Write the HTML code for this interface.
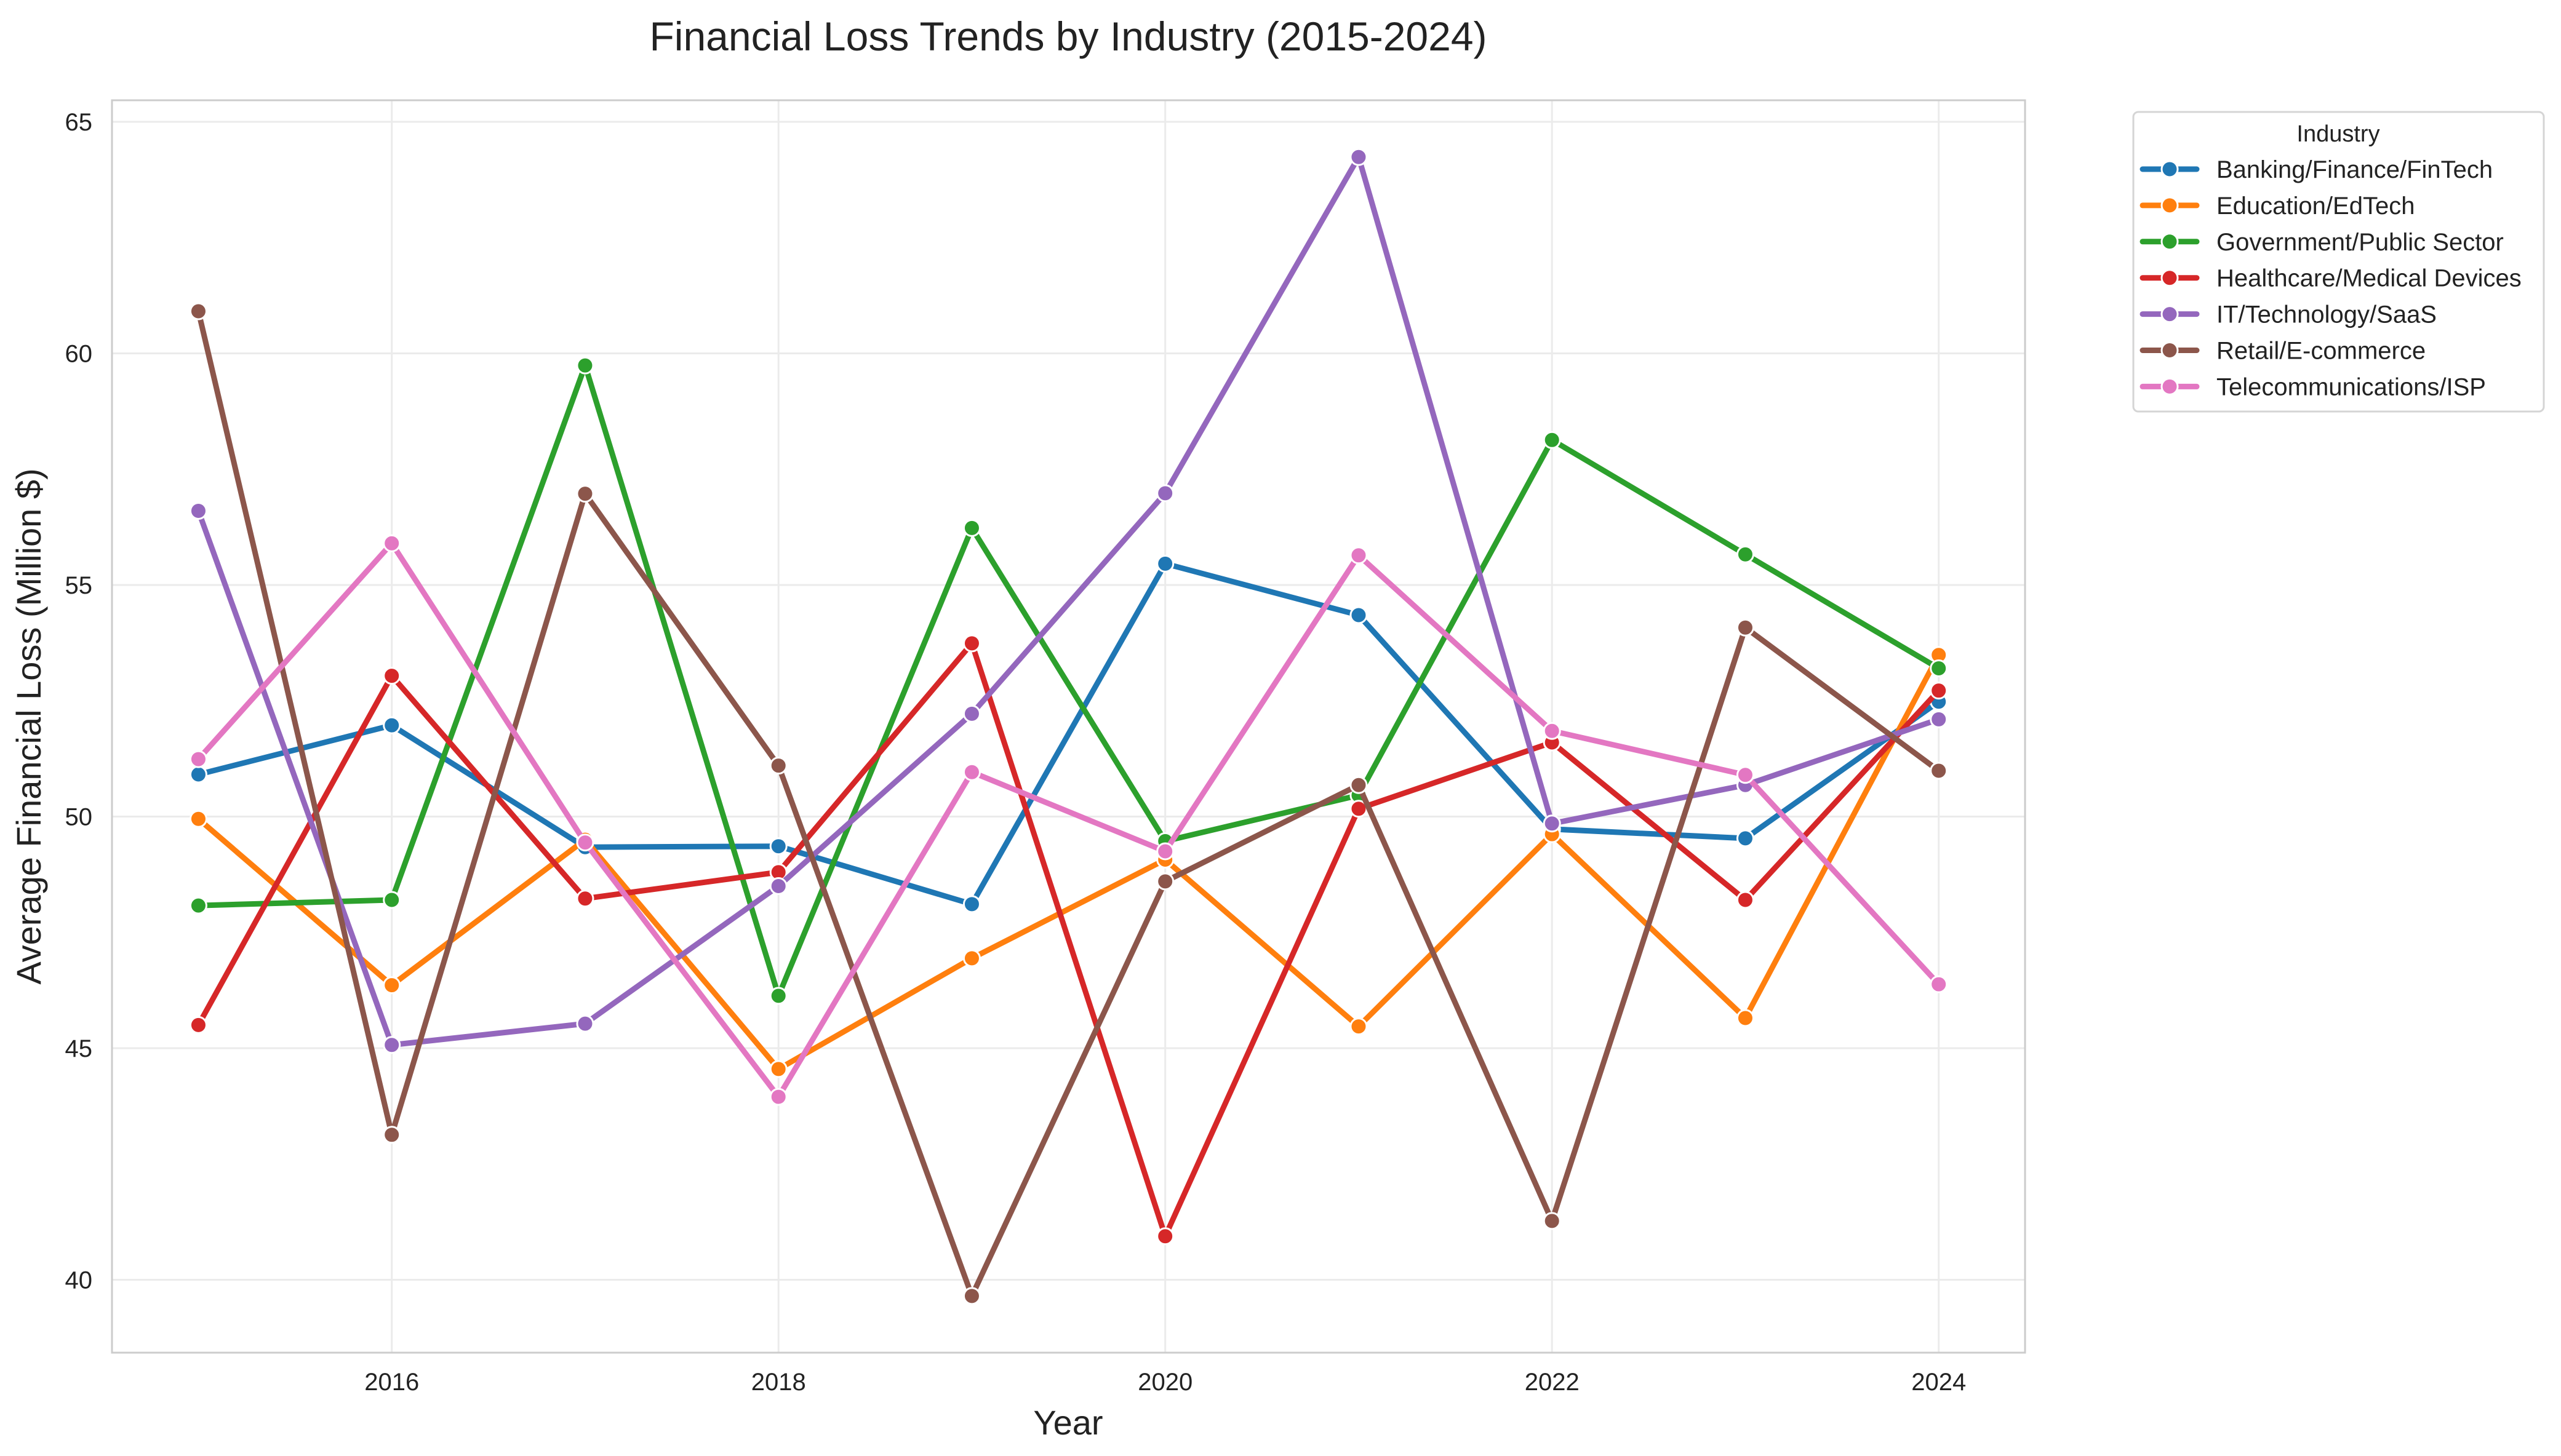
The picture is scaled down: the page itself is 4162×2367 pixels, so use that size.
<!DOCTYPE html>
<html><head><meta charset="utf-8"><style>
html,body{margin:0;padding:0;background:#fff;}
svg{display:block;font-family:"Liberation Sans",Arial,sans-serif;}
</style></head><body>
<svg id="chart" width="4162" height="2367" viewBox="0 0 4162 2367" xmlns="http://www.w3.org/2000/svg">
<rect x="0" y="0" width="4162" height="2367" fill="#fff"/>
<g id="grid"></g>
<g id="series"></g>
<rect x="182" y="163" width="3109" height="2036" fill="none" stroke="#cccccc" stroke-width="3"/>
<g id="ticks"></g>
<text x="1736" y="82" text-anchor="middle" font-size="66" fill="#222">Financial Loss Trends by Industry (2015-2024)</text>
<text x="1736" y="2332" text-anchor="middle" font-size="56" fill="#222">Year</text>
<text transform="translate(66,1181) rotate(-90)" text-anchor="middle" font-size="56" fill="#222">Average Financial Loss (Million $)</text>
<g id="legend">
<rect x="3467" y="182" width="667" height="487" rx="8" fill="#fff" stroke="#d5d5d5" stroke-width="3"/>
<text x="3800" y="230" text-anchor="middle" font-size="38" fill="#222">Industry</text>
</g>
</svg>
<script>
const years = [2015,2016,2017,2018,2019,2020,2021,2022,2023,2024];
const industries = ["Banking/Finance/FinTech","Education/EdTech","Government/Public Sector","Healthcare/Medical Devices","IT/Technology/SaaS","Retail/E-commerce","Telecommunications/ISP"];
const colors = ["#1f77b4","#ff7f0e","#2ca02c","#d62728","#9467bd","#8c564b","#e377c2"];
const banking = [50.91,51.97,49.34,49.36,48.11,55.46,54.35,49.73,49.53,52.48];
const education = [49.95,46.36,49.5,44.55,46.94,49.07,45.47,49.62,45.65,53.49];
const government = [48.08,48.2,59.74,46.13,56.23,49.47,50.46,58.13,55.66,53.2];
const healthcare = [45.5,53.04,48.23,48.8,53.74,40.94,50.17,51.6,48.2,52.72];
const itTech = [56.6,45.07,45.53,48.5,52.22,56.98,64.24,49.85,50.68,52.1];
const retail = [60.91,43.13,56.97,51.1,39.65,48.6,50.68,41.27,54.08,50.99];
const telecom = [51.24,55.9,49.44,43.95,50.96,49.25,55.64,51.85,50.9,46.38];
const yTicks = [40,45,50,55,60,65];
const xTicks = [2016,2018,2020,2022,2024];

const NS = "http://www.w3.org/2000/svg";
const X0=182, X1=3291, Y0=163, Y1=2199;
function xs(yr){ return 636.7 + (yr-2016)*314.25; }
function ys(v){ return 198 + (65-v)*75.3; }
function mk(tag, attrs, parent){ const e=document.createElementNS(NS,tag); for(const k in attrs) e.setAttribute(k,attrs[k]); parent.appendChild(e); return e; }

const grid=document.getElementById('grid'), ticks=document.getElementById('ticks');
yTicks.forEach(v=>{
  const l=mk('line',{x1:X0,x2:X1,y1:ys(v),y2:ys(v),stroke:'#ebebeb','stroke-width':3},grid);
  
  
  const t=mk('text',{x:150,y:ys(v)+14,'text-anchor':'end','font-size':40,fill:'#222'},ticks);
  t.textContent=v;
  
  
});
xTicks.forEach(yr=>{
  const l=mk('line',{x1:xs(yr),x2:xs(yr),y1:Y0,y2:Y1,stroke:'#ebebeb','stroke-width':3},grid);
  
  
  const t=mk('text',{x:xs(yr),y:2260,'text-anchor':'middle','font-size':40,fill:'#222'},ticks);
  t.textContent=yr;
  
  
});

const seriesData=[banking,education,government,healthcare,itTech,retail,telecom];
const sg=document.getElementById('series');
seriesData.forEach((vals,i)=>{
  const g=mk('g',{},sg);
  
  
  const pts=vals.map((v,j)=>xs(years[j])+','+ys(v)).join(' ');
  const pl=mk('polyline',{points:pts,fill:'none',stroke:colors[i],'stroke-width':9,'stroke-linejoin':'round','stroke-linecap':'round'},g);
  
  
  vals.forEach((v,j)=>{
    const c=mk('circle',{cx:xs(years[j]),cy:ys(v),r:13,fill:colors[i],stroke:'#fff','stroke-width':3},g);
    
    
  });
});

const lg=document.getElementById('legend');
industries.forEach((name,i)=>{
  const y=275+i*58.9;
  const g=mk('g',{},lg);
  
  
  mk('line',{x1:3482,x2:3570,y1:y,y2:y,stroke:colors[i],'stroke-width':9,'stroke-linecap':'round'},g);
  mk('circle',{cx:3526,cy:y,r:13,fill:colors[i],stroke:'#fff','stroke-width':3},g);
  const t=mk('text',{x:3602,y:y+14,'font-size':40,fill:'#222'},g);
  t.textContent=name;
});
</script>
</body></html>
